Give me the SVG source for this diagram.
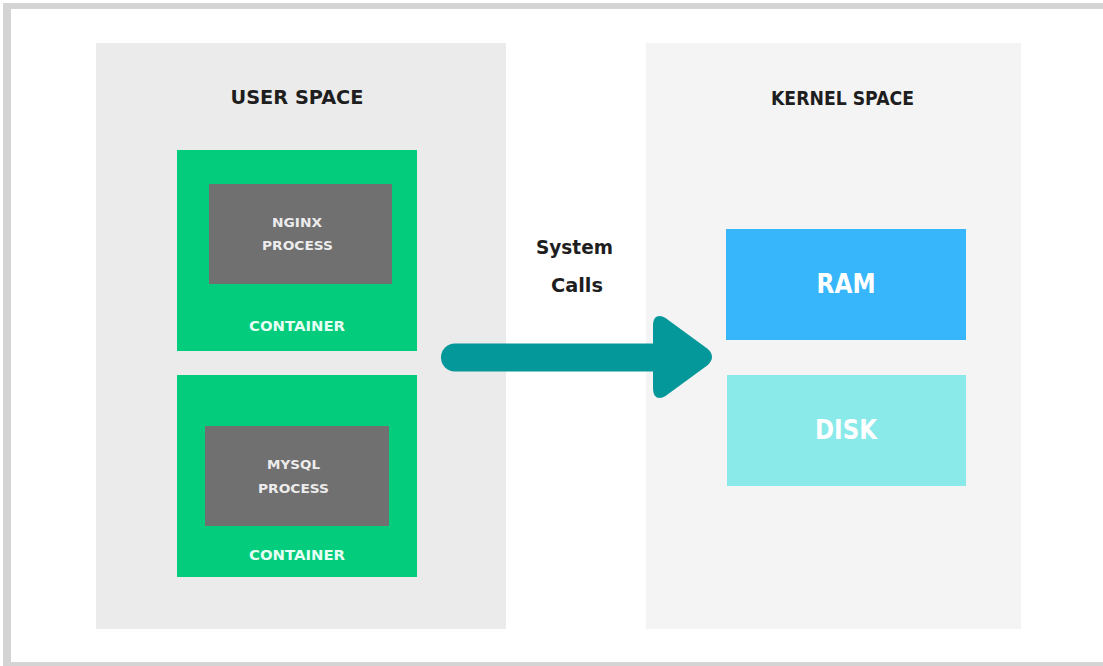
<svg xmlns="http://www.w3.org/2000/svg" width="1103" height="666" viewBox="0 0 1103 666">
  <style>
    .t { font-family: "DejaVu Sans", "Liberation Sans", sans-serif; font-weight: bold; text-anchor: middle; }
    .head { font-size: 19px; fill: #1e1e1e; }
    .proc { font-size: 13px; fill: #ececec; }
    .cont { font-size: 13.5px; fill: #e6fff4; }
    .mem { font-size: 26px; fill: #ffffff; }
    .green { fill: #03cc7c; }
    .gray { fill: #707070; }
  </style>
  <rect x="0" y="0" width="1103" height="666" fill="#ffffff"/>
  <g id="frame" fill="#d4d4d4">
    <rect x="3" y="3" width="1100" height="6"/>
    <rect x="3" y="3" width="8" height="663"/>
    <rect x="3" y="662" width="1100" height="4"/>
  </g>
  <g id="user-space">
    <rect x="96" y="43" width="410" height="586" fill="#ebebeb"/>
    <text class="t head" x="297" y="104" textLength="133" lengthAdjust="spacingAndGlyphs">USER SPACE</text>
  </g>
  <g id="kernel-space">
    <rect x="646" y="43" width="375" height="586" fill="#f4f4f4"/>
    <text class="t head" x="842.5" y="105" textLength="143" lengthAdjust="spacingAndGlyphs">KERNEL SPACE</text>
  </g>
  <g id="container-nginx">
    <rect class="green" x="177" y="150" width="240" height="201"/>
    <rect class="gray" x="209" y="184" width="183" height="100"/>
    <text class="t proc" x="297" y="227" textLength="50" lengthAdjust="spacingAndGlyphs">NGINX</text>
    <text class="t proc" x="297.5" y="250" textLength="71" lengthAdjust="spacingAndGlyphs">PROCESS</text>
    <text class="t cont" x="297" y="331" textLength="96" lengthAdjust="spacingAndGlyphs">CONTAINER</text>
  </g>
  <g id="container-mysql">
    <rect class="green" x="177" y="375" width="240" height="202"/>
    <rect class="gray" x="205" y="426" width="184" height="100"/>
    <text class="t proc" x="293.5" y="469" textLength="53" lengthAdjust="spacingAndGlyphs">MYSQL</text>
    <text class="t proc" x="293.5" y="493" textLength="71" lengthAdjust="spacingAndGlyphs">PROCESS</text>
    <text class="t cont" x="297" y="560" textLength="96" lengthAdjust="spacingAndGlyphs">CONTAINER</text>
  </g>
  <g id="ram">
    <rect x="726" y="229" width="240" height="111" fill="#38b6fc"/>
    <text class="t mem" x="846" y="293" textLength="59" lengthAdjust="spacingAndGlyphs">RAM</text>
  </g>
  <g id="disk">
    <rect x="727" y="375" width="239" height="111" fill="#8aeaea"/>
    <text class="t mem" x="846" y="439" textLength="62" lengthAdjust="spacingAndGlyphs">DISK</text>
  </g>
  <g id="connectors">
    <line x1="455" y1="357.5" x2="665" y2="357.5" stroke="#05989a" stroke-width="28" stroke-linecap="round"/>
    <path d="M655 326 Q655 314 665 320 L706 350 Q714 357 706 364 L665 394 Q655 400 655 388 Z" fill="#05989a" stroke="#05989a" stroke-width="4" stroke-linejoin="round"/>
    <text class="t head" x="574.5" y="254" textLength="77" lengthAdjust="spacingAndGlyphs">System</text>
    <text class="t head" x="577" y="292" textLength="52" lengthAdjust="spacingAndGlyphs">Calls</text>
  </g>
</svg>
